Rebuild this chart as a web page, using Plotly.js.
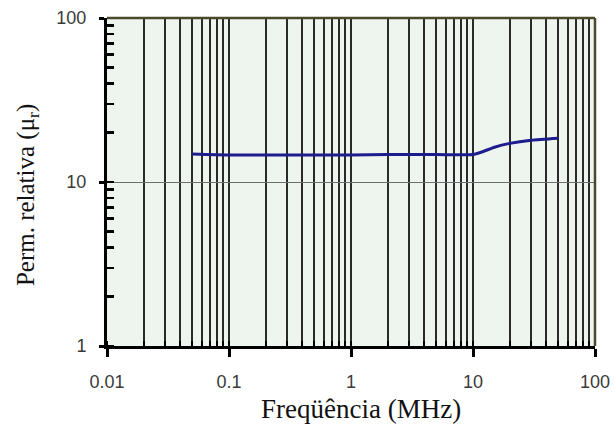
<!DOCTYPE html>
<html>
<head>
<meta charset="utf-8">
<script src="https://cdn.plot.ly/plotly-3.0.1.min.js"></script>
<style>
  html, body { margin: 0; padding: 0; background: #ffffff; }
  #chart { width: 614px; height: 432px; }
</style>
</head>
<body>
<div id="chart"></div>
<script>
// Frequency (MHz) and relative permeability of the core material
const frequencyMHz = [0.05, 0.1, 0.2, 0.5, 1, 2, 5, 10, 12, 15, 20, 30, 50];
const permeability = [14.8, 14.6, 14.6, 14.6, 14.6, 14.7, 14.7, 14.7, 15.3, 16.3, 17.2, 18.0, 18.5];

const xTickValues = [0.01, 0.1, 1, 10, 100];
const xTickLabels = ['0.01', '0.1', '1', '10', '100'];
const yTickValues = [1, 10, 100];
const yTickLabels = ['1', '10', '100'];

const xTitle = 'Freqüência (MHz)';
const yTitle = 'Perm. relativa (μ<sub>r</sub>)';

const tickFont = { family: 'Liberation Sans, Arial, sans-serif', size: 18, color: '#3a3a3a' };
const serif = 'Liberation Serif, Times New Roman, serif';

const trace = {
  x: frequencyMHz,
  y: permeability,
  type: 'scatter',
  mode: 'lines',
  line: { color: '#1c1c8c', width: 3, shape: 'spline', smoothing: 0.6 },
  hoverinfo: 'x+y'
};

const layout = {
  width: 614,
  height: 432,
  margin: { l: 107, r: 19, t: 18, b: 86 },
  paper_bgcolor: '#ffffff',
  plot_bgcolor: '#eef5ef',
  showlegend: false,
  xaxis: {
    type: 'log',
    range: [-2, 2],
    tickvals: xTickValues,
    ticktext: xTickLabels,
    ticks: 'outside',
    ticklen: 8,
    tickwidth: 3,
    tickcolor: '#000000',
    ticklabelstandoff: 9,
    tickfont: tickFont,
    showline: true,
    linecolor: '#000000',
    linewidth: 3,
    showgrid: true,
    gridcolor: '#2a2a2a',
    gridwidth: 2,
    zeroline: false,
    minor: {
      dtick: 'D1',
      ticks: 'inside',
      ticklen: 5,
      tickwidth: 2,
      tickcolor: '#000000',
      showgrid: true,
      gridcolor: '#2a2a2a',
      gridwidth: 2
    }
  },
  yaxis: {
    type: 'log',
    range: [0, 2],
    tickvals: yTickValues,
    ticktext: yTickLabels,
    ticks: 'outside',
    ticklen: 5,
    tickwidth: 3,
    tickcolor: '#000000',
    ticklabelstandoff: 9,
    tickfont: tickFont,
    showline: true,
    linecolor: '#000000',
    linewidth: 3,
    showgrid: true,
    gridcolor: '#6e6e6e',
    gridwidth: 1,
    zeroline: false,
    minor: {
      dtick: 'D1',
      ticks: 'inside',
      ticklen: 7,
      tickwidth: 2.5,
      tickcolor: '#000000',
      showgrid: false
    }
  },
  annotations: [
    // axis titles, placed relative to the plot frame
    { text: xTitle, xref: 'paper', yref: 'paper', x: 0.5, y: 0,
      xanchor: 'center', yanchor: 'middle', xshift: 10, yshift: -63,
      showarrow: false, font: { family: serif, size: 27, color: '#111111' } },
    { text: yTitle, xref: 'paper', yref: 'paper', x: 0, y: 0.46,
      xanchor: 'center', yanchor: 'middle', xshift: -80, textangle: -90,
      showarrow: false, font: { family: serif, size: 25, color: '#111111' } }
  ],
  shapes: [
    // top and right frame edges
    { type: 'line', xref: 'paper', yref: 'paper', x0: 0, x1: 1, y0: 1, y1: 1,
      line: { color: '#4a4a2a', width: 2.5 } },
    { type: 'line', xref: 'paper', yref: 'paper', x0: 1, x1: 1, y0: 0, y1: 1,
      line: { color: '#4a4a2a', width: 2.5 } }
  ]
};

Plotly.newPlot('chart', [trace], layout, { displayModeBar: false, staticPlot: true });
</script>
</body>
</html>
